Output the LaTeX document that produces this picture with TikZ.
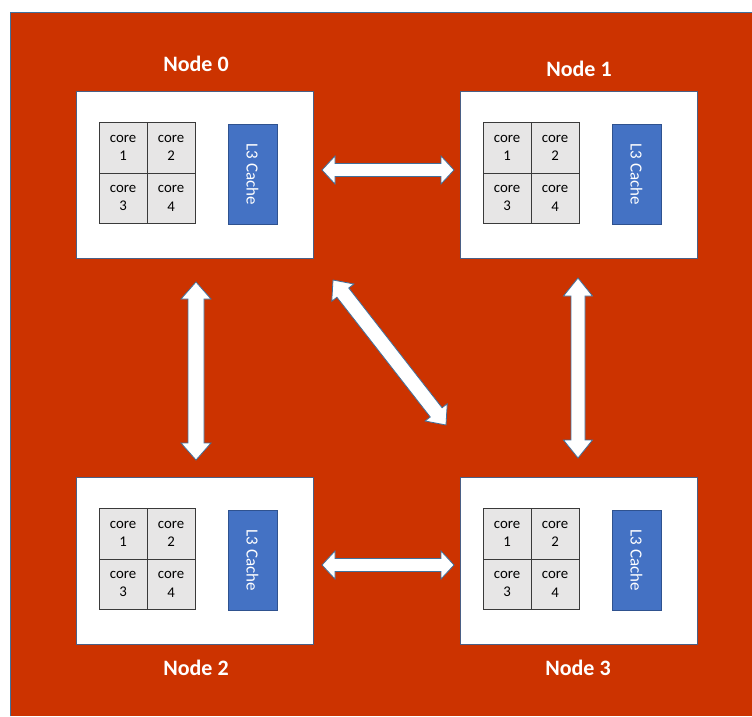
\documentclass[tikz,border=0pt]{standalone}
\usepackage{fontspec}
\setmainfont{Carlito}
\usetikzlibrary{calc}

\definecolor{bgred}{HTML}{CC3300}
\definecolor{edgeblue}{HTML}{41719C}
\definecolor{boxedge}{HTML}{4A5F85}
\definecolor{cellgray}{HTML}{E7E6E6}
\definecolor{cellline}{HTML}{3A3A3A}
\definecolor{cacheblue}{HTML}{4472C4}
\definecolor{cacheedge}{HTML}{2F528F}

\tikzset{
  numabox/.style={draw=boxedge, line width=1pt, fill=white,
    minimum width=237pt, minimum height=167pt, inner sep=0pt},
  corecell/.style={draw=cellline, line width=0.9pt, fill=cellgray,
    minimum width=48pt, minimum height=50.5pt, inner sep=0pt, align=center,
    text=black, font=\fontsize{14.8}{18.3}\selectfont},
  cachebox/.style={draw=cacheedge, line width=0.8pt, fill=cacheblue,
    rotate=-90, minimum width=100pt, minimum height=49pt, inner sep=0pt,
    text=white, font=\fontsize{17}{20}\selectfont},
  nodelabel/.style={text=white, inner sep=0pt,
    font=\bfseries\fontsize{22}{26}\selectfont},
  linkarrow/.style={draw=edgeblue, line width=0.8pt, fill=white, line join=miter},
}

% Double-headed block arrow between two tip coordinates.
% #1, #2: tips; #3: head length; #4: half head width; #5: half shaft width
\newcommand\blockarrow[5]{%
  \draw[linkarrow] (#1)
    -- ($(#1)!#3!(#2)!#4!90:(#2)$)
    -- ($(#1)!#3!(#2)!#5!90:(#2)$)
    -- ($(#2)!#3!(#1)!#5!-90:(#1)$)
    -- ($(#2)!#3!(#1)!#4!-90:(#1)$)
    -- (#2)
    -- ($(#2)!#3!(#1)!#4!90:(#1)$)
    -- ($(#2)!#3!(#1)!#5!90:(#1)$)
    -- ($(#1)!#3!(#2)!#5!-90:(#2)$)
    -- ($(#1)!#3!(#2)!#4!-90:(#2)$)
    -- cycle;%
}

\begin{document}
\begin{tikzpicture}[x=1pt, y=-1pt]
  \useasboundingbox (0,0) rectangle (752,716);

  % backdrop
  \fill[bgred] (10,12) rectangle (752,716);
  \draw[edgeblue, line width=0.8pt] (10,716) -- (10,12) -- (752,12);

  % the four NUMA nodes
  \foreach \i/\cx/\cy/\lx/\ly in {0/194.5/174.5/196/64,
                                  1/578.5/174.5/579/69,
                                  2/194.5/560.5/196/668,
                                  3/578.5/560.5/578/668} {
    \node[numabox] (n\i) at (\cx,\cy) {};
    \node[corecell] (n\i c1) at ($(n\i.north west)+(47.5,57.25)$) {core\\1};
    \node[corecell] (n\i c2) at ($(n\i.north west)+(95.5,57.25)$) {core\\2};
    \node[corecell] (n\i c3) at ($(n\i.north west)+(47.5,107.75)$) {core\\3};
    \node[corecell] (n\i c4) at ($(n\i.north west)+(95.5,107.75)$) {core\\4};
    \node[cachebox] (n\i l3) at ($(n\i.west)+(177,0)$) {L3 Cache};
    \node[nodelabel] (n\i label) at (\lx,\ly) {Node \i};
  }

  % interconnect tips
  \coordinate (l01a) at (322,170);
  \coordinate (l01b) at (454,170);
  \coordinate (l23a) at (322,565);
  \coordinate (l23b) at (454,565);
  \coordinate (l02a) at (196,282);
  \coordinate (l02b) at (196,460);
  \coordinate (l13a) at (578,278);
  \coordinate (l13b) at (578,458);
  \coordinate (l03a) at (333,280);
  \coordinate (l03b) at (446,425);

  \blockarrow{l01a}{l01b}{13pt}{14pt}{6.5pt}
  \blockarrow{l23a}{l23b}{13pt}{14pt}{6.5pt}
  \blockarrow{l02a}{l02b}{17pt}{15pt}{8pt}
  \blockarrow{l13a}{l13b}{18pt}{14.5pt}{7pt}
  \blockarrow{l03a}{l03b}{16pt}{14pt}{7.5pt}
\end{tikzpicture}
\end{document}
